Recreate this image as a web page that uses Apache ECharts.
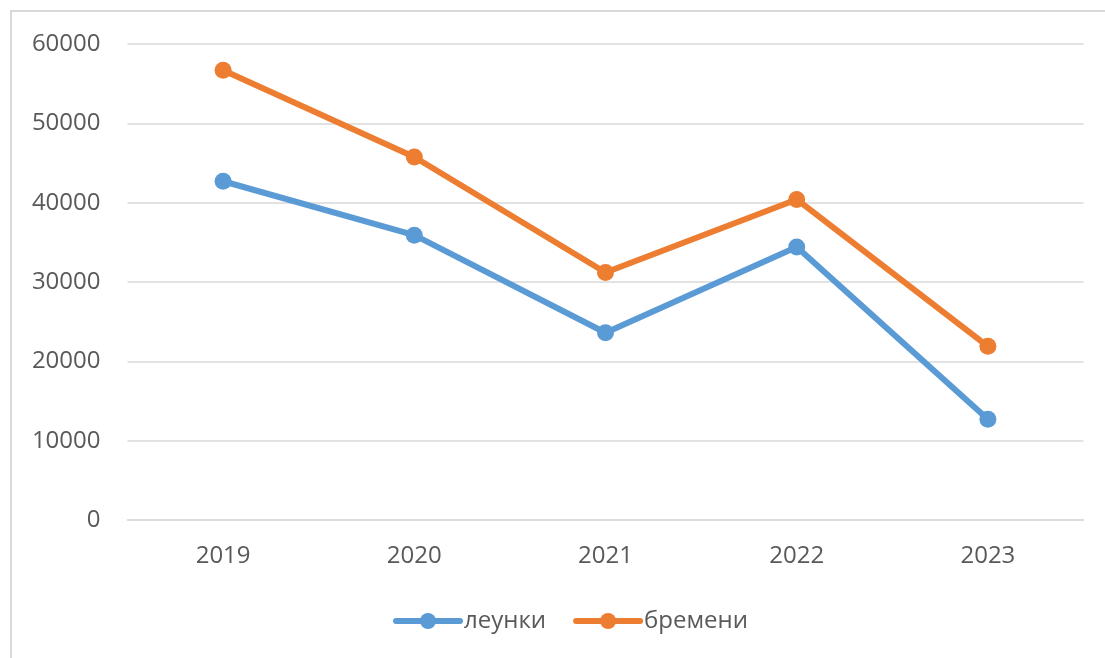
<!DOCTYPE html>
<html>
<head>
<meta charset="utf-8">
<script src="https://cdn.jsdelivr.net/npm/echarts@6/dist/echarts.min.js"></script>
<style>
html,body{margin:0;padding:0;background:#fff;}
#chart{width:1105px;height:658px;}
</style>
</head>
<body>
<div id="chart"></div>
<script>
const categories = ['2019', '2020', '2021', '2022', '2023'];
const seriesNames = ['леунки', 'бремени'];
const leunki = [42700, 35900, 23600, 34400, 12700];
const bremeni = [56700, 45750, 31200, 40400, 21900];
const yTicks = { min: 0, max: 60000, interval: 10000 };

const chart = echarts.init(document.getElementById('chart'));
const font = '"Open Sans", "Noto Sans", sans-serif';
chart.setOption({
  animation: false,
  backgroundColor: '#fff',
  graphic: [{
    type: 'rect',
    shape: { x: 11, y: 11, width: 1200, height: 700 },
    style: { fill: 'none', stroke: '#d9d9d9', lineWidth: 2 },
    silent: true
  }],
  grid: { left: 127.5, right: 21.5, top: 44, bottom: 138, containLabel: false },
  legend: {
    left: 388,
    top: 604,
    itemWidth: 64,
    itemHeight: 20,
    itemGap: 27,
    lineStyle: { width: 6, cap: 'round' },
    textStyle: { fontFamily: font, fontSize: 24, color: '#595959', padding: [0, 0, 0, -1] },
    data: seriesNames
  },
  xAxis: {
    type: 'category',
    data: categories,
    boundaryGap: true,
    axisLine: { show: true, lineStyle: { color: '#d9d9d9', width: 1.5 } },
    axisTick: { show: false },
    axisLabel: { fontFamily: font, fontSize: 24, color: '#595959', margin: 24 },
    splitLine: { show: false }
  },
  yAxis: {
    type: 'value',
    min: yTicks.min,
    max: yTicks.max,
    interval: yTicks.interval,
    axisLine: { show: false },
    axisTick: { show: false },
    axisLabel: { fontFamily: font, fontSize: 24, color: '#595959', margin: 27, formatter: function (v) { return String(v); } },
    splitLine: { lineStyle: { color: '#d9d9d9', width: 1.5 } }
  },
  series: [
    {
      name: seriesNames[0],
      type: 'line',
      data: leunki,
      symbol: 'circle',
      symbolSize: 17,
      lineStyle: { color: '#5B9BD5', width: 6 },
      itemStyle: { color: '#5B9BD5' }
    },
    {
      name: seriesNames[1],
      type: 'line',
      data: bremeni,
      symbol: 'circle',
      symbolSize: 17,
      lineStyle: { color: '#ED7D31', width: 6 },
      itemStyle: { color: '#ED7D31' }
    }
  ]
});
</script>
</body>
</html>
